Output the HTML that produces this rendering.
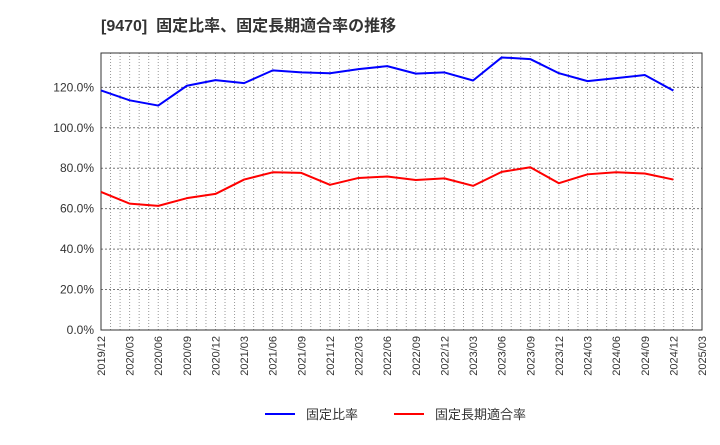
<!DOCTYPE html>
<html><head><meta charset="utf-8"><style>
body{margin:0;background:#fff;font-family:"Liberation Sans","Noto Sans CJK JP",sans-serif}
</style></head><body>
<svg id="chart" width="720" height="440" xmlns="http://www.w3.org/2000/svg">
<text x="101" y="31" font-size="16" font-weight="bold" fill="#333" font-family="Liberation Sans,Noto Sans CJK JP,sans-serif" xml:space="preserve">[9470]  固定比率、固定長期適合率の推移</text>
<g id="grid"></g><g id="axes"></g><g id="series"></g>
<g>
<line x1="265" y1="414" x2="295" y2="414" stroke="#0000ff" stroke-width="2"/>
<text x="306" y="419" font-size="13" fill="#333">固定比率</text>
<line x1="394" y1="414" x2="424" y2="414" stroke="#ff0000" stroke-width="2"/>
<text x="435" y="419" font-size="13" fill="#333">固定長期適合率</text>
</g>
</svg>
<script>
const xLabels=["2019/12","2020/03","2020/06","2020/09","2020/12","2021/03","2021/06","2021/09","2021/12","2022/03","2022/06","2022/09","2022/12","2023/03","2023/06","2023/09","2023/12","2024/03","2024/06","2024/09","2024/12","2025/03"];
const yTicks=[0,20,40,60,80,100,120];
const fixedRatio=[118.5,113.6,111,120.8,123.6,122.1,128.4,127.4,127,129,130.5,126.8,127.4,123.4,134.8,134,127,123.1,124.6,126.1,118.4];
const fixedLongRatio=[68.3,62.5,61.4,65.2,67.3,74.4,78,77.7,71.8,75.2,75.9,74.2,75,71.3,78.2,80.5,72.6,77,78,77.4,74.4];
const L=101,R=702,T=53,B=330,yMax=137;
const ns="http://www.w3.org/2000/svg";
const q=(R-L)/(xLabels.length-1);
const xs=i=>L+i*q, ys=v=>B-(v/yMax)*(B-T);
function mk(t,a,p){const e=document.createElementNS(ns,t);for(const k in a)e.setAttribute(k,a[k]);p.appendChild(e);return e;}
const grid=document.getElementById('grid'),axes=document.getElementById('axes'),ser=document.getElementById('series');
for(let m=1;m<(xLabels.length-1)*3;m++){const x=L+m*q/3;
const g=mk('line',{x1:x,y1:T,x2:x,y2:B,stroke:'#999','stroke-dasharray':'1,2','stroke-width':1},grid);
}
yTicks.forEach(v=>{const y=ys(v);
const g=mk('line',{x1:L,y1:y,x2:R,y2:y,stroke:'#777','stroke-dasharray':'2,2','stroke-width':1},grid);

const t=mk('text',{x:L-7,y:y+4,'text-anchor':'end','font-size':12,fill:'#333'},axes);t.textContent=v.toFixed(1)+'%';
});
const fr=mk('rect',{x:L,y:T,width:R-L,height:B-T,fill:'none',stroke:'#333','stroke-width':1},axes);

xLabels.forEach((s,i)=>{const x=xs(i);
const t=mk('text',{x:x+4,y:B+6,'text-anchor':'end','font-size':11,fill:'#333',transform:`rotate(-90 ${x+4} ${B+6})`},axes);t.textContent=s;
});
function line(d,c,n){const p=mk('polyline',{points:d.map((v,i)=>xs(i)+','+ys(v)).join(' '),fill:'none',stroke:c,'stroke-width':2,'stroke-linejoin':'round'},ser);
}
line(fixedRatio,'#0000ff','fixed-ratio-line');
line(fixedLongRatio,'#ff0000','fixed-long-term-ratio-line');
</script>
</body></html>
